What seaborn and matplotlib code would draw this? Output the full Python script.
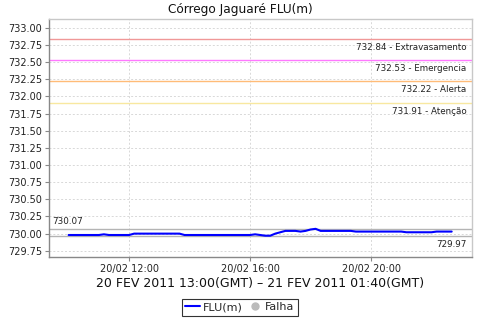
import matplotlib
matplotlib.use("Agg")
import matplotlib.pyplot as plt
import matplotlib.dates as mdates
from matplotlib.lines import Line2D
import seaborn as sns
import pandas as pd
import numpy as np

# ---- data ----
start_time = "2011-02-20 10:00"
levels = (
    [729.98] * 7 + [729.99] + [729.98] * 5 + [730.00] * 10 + [729.98] * 14 +
    [729.99, 729.98, 729.97, 729.97, 730.00, 730.02, 730.04, 730.04, 730.04,
     730.03, 730.04, 730.06, 730.07] +
    [730.04] * 7 + [730.03] * 10 + [730.02] * 6 + [730.03] * 4
)
times = pd.date_range(start_time, periods=len(levels), freq="10min")

thresholds = [732.84, 732.53, 732.22, 731.91]
threshold_names = ["Extravasamento", "Emergencia", "Alerta", "Atenção"]
threshold_colors = ["#F09898", "#FF78FF", "#FFBC78", "#F8E8A0"]
max_val = 730.07
min_val = 729.97

y_ticks = [729.75, 730.00, 730.25, 730.50, 730.75, 731.00, 731.25, 731.50,
           731.75, 732.00, 732.25, 732.50, 732.75, 733.00]
x_ticks = ["2011-02-20 12:00", "2011-02-20 16:00", "2011-02-20 20:00"]
x_range = ["2011-02-20 09:21", "2011-02-20 23:20"]

title = "Córrego Jaguaré FLU(m)"
xlabel = "20 FEV 2011 13:00(GMT) – 21 FEV 2011 01:40(GMT)"

df = pd.DataFrame({"time": times, "FLU(m)": levels})

sns.set_theme(style="white")
plt.rcParams["font.family"] = ["DejaVu Sans"]

fig = plt.figure(figsize=(4.8, 3.2), dpi=100)
ax = fig.add_axes([0.102, 0.197, 0.881, 0.744])

# thresholds
for val, name, col in zip(thresholds, threshold_names, threshold_colors):
    ax.axhline(val, color=col, lw=1.0, zorder=2)
    ax.annotate(f"{val:.2f} - {name}", xy=(1, val), xycoords=("axes fraction", "data"),
                xytext=(-4, -3), textcoords="offset points", ha="right", va="top",
                fontsize=6.3, color="#222222")

# min / max lines
ax.axhline(max_val, color="#B4B4B4", lw=1.0, zorder=2)
ax.axhline(min_val, color="#B4B4B4", lw=1.0, zorder=2)
ax.annotate(f"{max_val:.2f}", xy=(0, max_val), xycoords=("axes fraction", "data"),
            xytext=(2, 2), textcoords="offset points", ha="left", va="bottom",
            fontsize=6.3, color="#222222")
ax.annotate(f"{min_val:.2f}", xy=(1, min_val), xycoords=("axes fraction", "data"),
            xytext=(-4, -3), textcoords="offset points", ha="right", va="top",
            fontsize=6.3, color="#222222")

sns.lineplot(data=df, x="time", y="FLU(m)", ax=ax, color="#0000FF", lw=1.5, zorder=3)

ax.set_ylim(729.66, 733.13)
ax.set_yticks(y_ticks)
ax.set_yticklabels([f"{v:.2f}" for v in y_ticks])
ax.set_xlim(pd.to_datetime(x_range[0]), pd.to_datetime(x_range[1]))
ax.set_xticks(pd.to_datetime(x_ticks))
ax.xaxis.set_major_formatter(mdates.DateFormatter("%d/%m %H:%M"))

ax.grid(True, color="#D8D8D8", ls=(0, (2, 2)), lw=0.7)
ax.tick_params(axis="both", labelsize=7, length=3, width=0.8,
               direction="out", pad=2, left=True, bottom=True)
ax.tick_params(axis="both", colors="#888888", labelcolor="#222222")

for side in ["left", "bottom"]:
    ax.spines[side].set_color("#888888")
    ax.spines[side].set_linewidth(1.0)
for side in ["top", "right"]:
    ax.spines[side].set_color("#C8C8C8")
    ax.spines[side].set_linewidth(1.0)

fig.text(0.5, 1 - 9 / 320, title, ha="center", va="center", fontsize=8.7, color="#111111")
ax.set_xlabel(xlabel, fontsize=9, color="#111111", labelpad=2)
ax.set_ylabel("")

handles = [Line2D([0], [0], color="#0000FF", lw=1.5),
           Line2D([0], [0], color="#BBBBBB", marker="o", ls="none", markersize=5)]
leg = fig.legend(handles, ["FLU(m)", "Falha"], loc="center", bbox_to_anchor=(0.5, 0.04),
                 ncol=2, fontsize=8, frameon=True, fancybox=False, handlelength=1.3,
                 handletextpad=0.3, columnspacing=0.4, borderpad=0.3, borderaxespad=0)
leg.get_frame().set_edgecolor("black")
leg.get_frame().set_linewidth(0.8)

fig.savefig("out.png", dpi=100)
